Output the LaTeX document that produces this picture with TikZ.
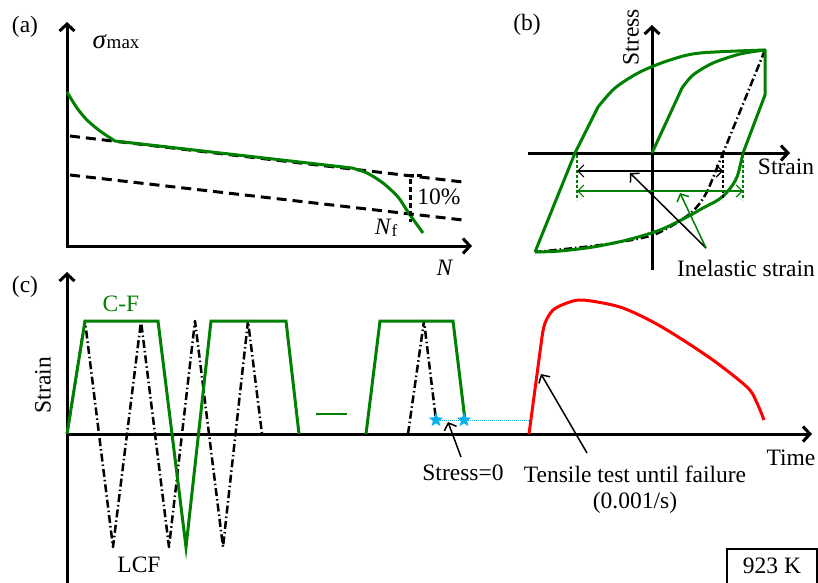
\documentclass[tikz,border=0pt]{standalone}
\usepackage{fontspec}
\setmainfont{Liberation Serif}
\usetikzlibrary{arrows.meta,shapes.geometric}
\definecolor{cfGreen}{RGB}{0,128,0}
\definecolor{starBlue}{RGB}{0,176,240}
\definecolor{tensRed}{RGB}{255,0,0}

\begin{document}
\begin{tikzpicture}[x=1pt,y=-1pt,>={Straight Barb[length=7pt,width=15pt]},
  font=\fontsize{23.5}{26}\selectfont,
  axisline/.style={line width=3pt},
  thinarrow/.style={line width=1.2pt,{Straight Barb[length=6pt,width=12pt]}-{Straight Barb[length=6pt,width=12pt]}},
  cfline/.style={cfGreen,line width=3pt},
  lcfline/.style={black,line width=2.5pt,line join=round,dash pattern=on 8pt off 3pt on 1.5pt off 3pt},
  starmark/.style={star,star points=5,star point ratio=2.3,fill=starBlue,minimum size=15pt,inner sep=0pt}]
  \useasboundingbox (0,0) rectangle (818,582);

  % (a) maximum stress vs cycles
  \node (labA) at (25,27) {(a)};
  \draw[axisline,<->] (67,22) |- (472,246);
  \node (sigmax) at (116,42) {{\fontsize{27}{27}\selectfont\textit{σ}}{\fontsize{19}{19}\selectfont max}};
  \node (cycN) at (445,268) {\textit{N}};
  \draw[line width=3pt,dash pattern=on 10pt off 6pt] (70,136) -- (463,182);
  \draw[line width=3pt,dash pattern=on 10pt off 6pt] (70,175) -- (463,220);
  \draw[cfline,line join=round] plot[smooth] coordinates {(67,92) (77,108) (87,120) (100,131) (115,141)}
    -- (352,168) -- plot[smooth] coordinates {(352,168) (367,173) (383,183) (398,197) (408,212) (423,233)};
  \draw[line width=3pt,dash pattern=on 5pt off 3pt] (422,175) -- (410,175) -- (410,222);
  \node (tenpct) at (439,197) {10\%};
  \node (nfail) at (386,228) {\textit{N}\raisebox{-0.2ex}{\fontsize{17}{17}\selectfont f}};

  % (b) hysteresis loop
  \node (labB) at (527,25) {(b)};
  \draw[axisline,->] (528,153) -- (790,153);
  \draw[axisline,->] (652,270) -- (652,25);
  \node[rotate=90] (stressB) at (631,37) {Stress};
  \node (strainB) at (786,167) {Strain};
  \draw[lcfline] (765,50) -- (708,190)
    plot[smooth] coordinates {(708,190) (700,203) (687,216) (653,235) (600,245) (535,252)};
  \draw[cfline,line join=round] (535,252) -- (575,153) -- (598,107)
    plot[smooth] coordinates {(598,107) (615,88) (640,72) (670,60) (700,53) (765,50)}
    -- (765,95) -- (743,153)
    plot[smooth] coordinates {(743,153) (737,177) (728,191) (718,200) (703,208) (687,217) (660,230) (627,240) (593,247) (560,251) (535,252)};
  \draw[cfline,line join=round] (652,153) -- (682,88)
    plot[smooth] coordinates {(682,88) (693,75) (713,63) (740,54) (765,50)};
  \draw[line width=1.2pt,densely dashed] (723,155) -- (723,200);
  \draw[cfGreen,line width=1.2pt,densely dashed] (577,155) -- (577,200);
  \draw[cfGreen,line width=1.2pt,densely dashed] (743,155) -- (743,200);
  \draw[thinarrow] (577,171) -- (723,171);
  \draw[thinarrow,cfGreen] (577,191) -- (743,191);
  \node (inelastic) at (746,268) {Inelastic strain};
  \coordinate (inelfoot) at (706,248);
  \coordinate (blackwidth) at (630,173);
  \coordinate (greenwidth) at (680,193);
  \draw[line width=1.5pt,-{Straight Barb[length=6pt,width=13pt]}] (inelfoot) -- (blackwidth);
  \draw[cfGreen,line width=1.5pt,-{Straight Barb[length=6pt,width=13pt]}] (inelfoot) -- (greenwidth);

  % (c) strain histories
  \node (labC) at (25,287) {(c)};
  \draw[axisline,->] (67,592) -- (67,272);
  \draw[axisline,->] (67,434) -- (812,434);
  \node[rotate=90] (strainC) at (43,385) {Strain};
  \node (timeC) at (791,458) {Time};
  \draw[lcfline] (67,434) -- (85,321) -- (113,547) -- (141,321) -- (169,547)
    -- (195,321) -- (223,547) -- (248,321) -- (262,434);
  \draw[lcfline] (408,434) -- (424,321) -- (436,420);
  \draw[cfline] (67,434) -- (85,321) -- (158,321) -- (186,547) -- (211,321)
    -- (286,321) -- (299,434);
  \draw[cfGreen,line width=2pt] (316,414) -- (347,414);
  \draw[cfline] (366,434) -- (380,321) -- (453,321) -- (465,420);
  \node[cfGreen] (cfname) at (121,304) {C-F};
  \node (lcfname) at (139,565) {LCF};
  \draw[starBlue,line width=1pt,densely dotted] (436,420) -- (529,420);
  \node[starmark] (zeroA) at (436,420) {};
  \node[starmark] (zeroB) at (464,420) {};
  \draw[tensRed,line width=3pt,line join=round] (529,434) -- (542,337)
    plot[smooth] coordinates {(542,337) (545,323) (553,310) (567,303) (583,300) (620,307) (653,322) (683,340) (717,363) (748,388) (757,403) (764,420)};
  \node (stresszero) at (463,473) {Stress=0};
  \node[align=center] (tensile) at (635,490) {Tensile test until failure\\(0.001/s)};
  \coordinate (zerofoot) at (461,457);
  \coordinate (zerotip) at (448,422);
  \coordinate (tensfoot) at (587,453);
  \coordinate (tenstip) at (541,374);
  \draw[line width=1.5pt,-{Straight Barb[length=6pt,width=13pt]}] (zerofoot) -- (zerotip);
  \draw[line width=1.5pt,-{Straight Barb[length=6pt,width=13pt]}] (tensfoot) -- (tenstip);
  \draw[line width=1.5pt] (727,549) rectangle (817,592);
  \node (temp) at (772,566) {923 K};
\end{tikzpicture}
\end{document}
